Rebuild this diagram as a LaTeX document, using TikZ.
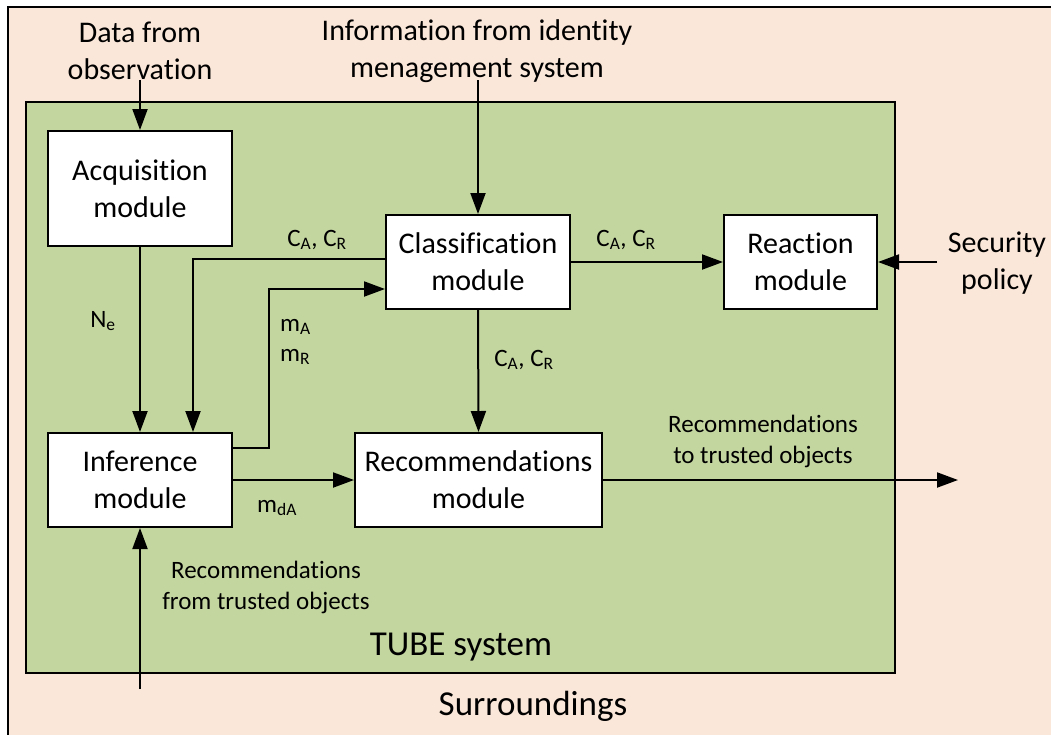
\documentclass[tikz,border=0pt]{standalone}
\usepackage{fontspec}
\setmainfont[Ligatures=NoCommon]{Carlito}
\usetikzlibrary{arrows.meta}
\definecolor{peach}{HTML}{FBE7D9}
\definecolor{olivegreen}{HTML}{C4D6A0}
\tikzset{
  bigtext/.style={font=\fontsize{30}{37}\selectfont, align=center, inner sep=0pt},
  smalltext/.style={font=\fontsize{25}{31}\selectfont, align=center, inner sep=0pt},
  hugetext/.style={font=\fontsize{35}{42}\selectfont, inner sep=0pt},
  modbox/.style={draw, fill=white, line width=2pt, inner sep=0pt, align=center,
    font=\fontsize{30}{37}\selectfont},
  arr/.style={line width=2pt, -{Triangle[length=21pt,width=15pt]}},
}
\begin{document}
\begin{tikzpicture}[x=1pt,y=-1pt]
\useasboundingbox (0,0) rectangle (1051,734);
\clip (0,0) rectangle (1051,734);
\fill[white] (0,0) rectangle (1051,734);
% surroundings
\draw[fill=peach, line width=2pt] (8,7) rectangle (1070,750);
% TUBE system
\draw[fill=olivegreen, line width=2pt] (26,102) rectangle (895,673);

% modules
\node[modbox, minimum width=184pt, minimum height=115pt] (acq) at (140,188.5) {Acquisition\\module};
\node[modbox, minimum width=184pt, minimum height=94pt] (cls) at (478,262) {Classification\\module};
\node[modbox, minimum width=153pt, minimum height=94pt] (rea) at (800.5,262) {Reaction\\module};
\node[modbox, minimum width=247pt, minimum height=94pt] (rec) at (478.5,480) {Recommendations\\module};
\node[modbox, minimum width=184pt, minimum height=94pt] (inf) at (140,480) {Inference\\module};

% outside texts
\node[bigtext] (obs) at (140,51) {Data from\\observation};
\node[bigtext] (ids) at (477,51) {Information from identity\\menagement system};
\node[bigtext] (sec) at (997,263) {Security\\policy};
\node[hugetext] (tube) at (461,647) {TUBE system};
\node[hugetext] (sur) at (533,706) {Surroundings};

% free ends
\coordinate (obsTop) at (140,80);
\coordinate (idTop) at (478,80);
\coordinate (secR) at (937,262);
\coordinate (outR) at (958,480);
\coordinate (fromB) at (140,689);

% connectors
\draw[arr] (obsTop) -- (acq.north);
\draw[arr] (idTop) -- (cls.north);
\draw[arr] (acq.south) -- (inf.north);
\draw[arr] ([yshift=3pt]cls.west) -| ([xshift=53pt]inf.north);
\draw[arr] ([yshift=32pt]inf.east) -- ++(36,0) |- ([yshift=-27pt]cls.west);
\draw[arr] (inf.east) -- (rec.west);
\draw[arr] (cls.south) -- (rec.north);
\draw[arr] (cls.east) -- (rea.west);
\draw[arr] (secR) -- (rea.east);
\draw[arr] (rec.east) -- (outR);
\draw[arr] (fromB) -- (inf.south);

% labels
\node[smalltext] (lne) at (103,321) {N\textsubscript{e}};
\node[smalltext] (lc1) at (317,240) {C\textsubscript{A}, C\textsubscript{R}};
\node[smalltext, anchor=west] (lma) at (280,327) {m\textsubscript{A}};
\node[smalltext, anchor=west] (lmr) at (280,357) {m\textsubscript{R}};
\node[smalltext] (lc2) at (524,360) {C\textsubscript{A}, C\textsubscript{R}};
\node[smalltext] (lmd) at (277,508) {m\textsubscript{dA}};
\node[smalltext] (lc3) at (626,240) {C\textsubscript{A}, C\textsubscript{R}};
\node[smalltext] (lto) at (763,441) {Recommendations\\to trusted objects};
\node[smalltext] (lfrom) at (266,587) {Recommendations\\from trusted objects};
\end{tikzpicture}
\end{document}
